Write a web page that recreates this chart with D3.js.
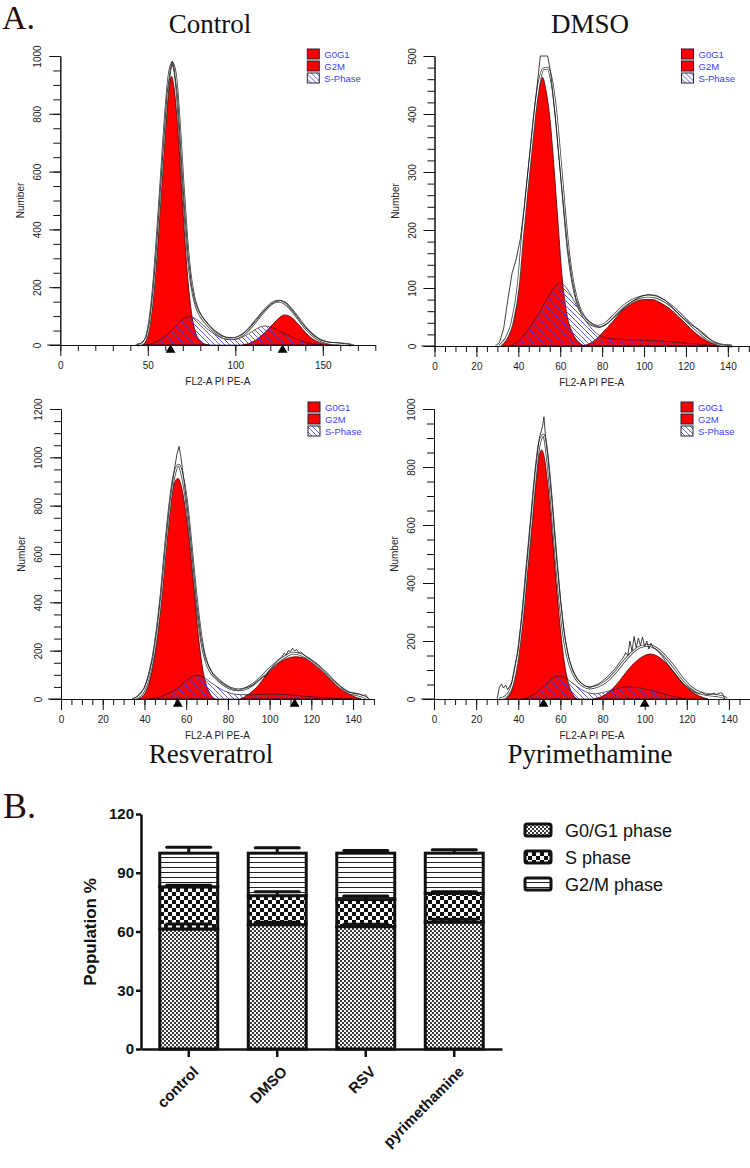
<!DOCTYPE html>
<html><head><meta charset="utf-8">
<script src="https://cdn.jsdelivr.net/npm/d3@7"></script>
<style>
body{margin:0;background:#fff;}
svg{display:block;}
</style></head><body>
<svg id="c" width="750" height="1168"></svg>
<script>
// ---------- Panel A data: [FL2-A value, Number] ----------
const controlG0G1 = [[46,0],[48,5],[50,40],[52,110],[54,230],[56,390],[58,560],[60,740],[62,880],[63.5,930],[65,890],[67,760],[69,570],[71,380],[73,220],[75,110],[77,50],[79,20],[82,5],[85,0]];
const controlG2M = [[104,0],[108,6],[112,18],[116,38],[120,62],[124,88],[128,104],[132,96],[136,72],[140,44],[144,22],[148,9],[152,3],[156,0]];
const controlS = [[48,0],[54,8],[58,22],[62,42],[66,65],[70,88],[74,98],[78,88],[82,66],[86,46],[90,31],[95,20],[100,20],[105,30],[110,48],[114,62],[117,66],[120,62],[124,52],[128,40],[132,28],[136,18],[140,10],[145,4],[150,0]];
const controlFit = [[44,0],[47,5],[50,45],[52,125],[54,255],[56,425],[58,605],[60,785],[62,925],[64,975],[66,925],[68,770],[70,570],[72,390],[74,255],[76,175],[78,130],[80,103],[83,78],[86,58],[90,38],[94,25],[98,22],[102,28],[106,44],[110,70],[114,100],[118,128],[122,148],[125,152],[128,146],[131,130],[134,108],[137,84],[140,60],[144,36],[148,18],[152,9],[156,5],[160,4],[163,2],[166,0]];
const controlRaw = [[43,0],[46,4],[49,25],[51,80],[53,190],[55,340],[57,520],[59,700],[61,870],[63,960],[64,982],[65,960],[67,860],[69,660],[71,470],[73,310],[75,205],[77,150],[79,118],[82,90],[85,68],[88,48],[92,32],[96,24],[100,25],[104,36],[108,58],[112,86],[116,115],[120,140],[123,150],[126,154],[129,145],[132,124],[135,100],[138,76],[141,55],[145,32],[149,16],[153,10],[157,8],[161,6],[165,2],[168,0]];
const controlMarkers = [63, 127];
const controlXTicks = [0, 50, 100, 150];
const controlYTicks = [0, 200, 400, 600, 800, 1000];

const dmsoG0G1 = [[32,0],[35,15],[38,45],[40,95],[42,185],[44,260],[46,325],[48,395],[50,445],[51.6,463],[53,445],[55,395],[57,310],[59,210],[61,115],[63,58],[66,22],[69,6],[72,0]];
const dmsoS = [[36,0],[40,8],[44,25],[48,45],[52,70],[56,95],[60,109],[63,100],[66,82],[69,62],[72,44],[75,30],[78,20],[82,14],[90,11],[100,10],[110,8],[120,5],[130,2],[136,0]];
const dmsoG2M = [[70,0],[75,6],[80,22],[85,42],[90,62],[95,75],[100,80],[104,80],[108,74],[112,65],[116,52],[120,38],[124,24],[128,13],[132,5],[136,0]];
const dmsoFit = [[31,0],[34,12],[37,40],[40,105],[42,190],[44,265],[46,335],[48,405],[50,455],[52,478],[54,479],[56,455],[58,400],[60,320],[62,235],[64,160],[66,110],[68,78],[71,52],[74,40],[78,34],[82,40],[86,54],[90,68],[94,78],[98,84],[102,86],[106,84],[110,77],[114,66],[118,52],[122,38],[126,25],[130,13],[134,5],[138,1],[142,0]];
const dmsoRaw = [[29,0],[31,6],[33,30],[35,80],[37,125],[39,150],[41,185],[43,245],[45,315],[47,385],[49,450],[50.5,500],[54,500],[55.5,470],[57.5,400],[59.5,320],[61.5,245],[63.5,170],[65.5,118],[67.5,82],[70,58],[73,44],[76,36],[79,32],[82,37],[86,50],[90,64],[94,76],[98,85],[102,89],[106,87],[110,79],[114,65],[118,50],[122,38],[126,29],[130,17],[133,6],[137,2],[142,0]];
const dmsoMarkers = [];
const dmsoXTicks = [0, 20, 40, 60, 80, 100, 120, 140];
const dmsoYTicks = [0, 100, 200, 300, 400, 500];

const rsvG0G1 = [[37,0],[40,20],[42,60],[44,130],[46,240],[48,400],[50,590],[52,760],[54,880],[56,913],[58,870],[60,760],[62,610],[64,430],[66,250],[68,120],[70,50],[72,15],[74,0]];
const rsvS = [[42,0],[48,10],[52,25],[56,45],[60,75],[64,96],[66,97],[70,80],[74,55],[78,35],[82,22],[86,18],[92,18],[100,20],[108,18],[116,12],[124,7],[132,3],[140,0]];
const rsvG2M = [[86,0],[90,20],[94,50],[98,95],[102,130],[106,158],[110,172],[113,175],[116,170],[120,155],[124,130],[128,100],[132,65],[136,35],[140,12],[144,0]];
const rsvFit = [[35,0],[38,15],[40,40],[42,90],[44,165],[46,280],[48,430],[50,620],[52,790],[54,915],[56.5,968],[58,930],[60,830],[62,670],[64,490],[66,330],[68,210],[70,145],[72,110],[75,82],[78,60],[81,45],[85,38],[88,42],[92,60],[96,90],[100,125],[104,155],[108,178],[111,190],[114,187],[118,170],[122,145],[126,115],[130,80],[134,48],[138,26],[142,18],[145,10],[147,0]];
const rsvRaw = [[34,0],[36,6],[38,25],[39,35],[40,45],[42,95],[44,170],[46,290],[48,440],[50,630],[52,800],[54,930],[55.5,1010],[56.6,1045],[57.5,1000],[59,900],[61,760],[63,580],[65,400],[67,260],[69,175],[71,130],[73,100],[76,75],[79,55],[82,42],[85,36],[88,44],[90,50],[92,58],[93,66],[95,80],[97,95],[98,92],[100,120],[102,140],[104,160],[106,175],[107,190],[108,182],[109,200],[110,196],[111,210],[112,198],[113,205],[114,190],[115,195],[117,178],[120,160],[123,140],[126,115],[130,80],[134,50],[137,30],[139,26],[141,22],[143,20],[145,14],[146,18],[147,5],[148,0]];
const rsvMarkers = [56, 112];
const rsvXTicks = [0, 20, 40, 60, 80, 100, 120, 140];
const rsvYTicks = [0, 200, 400, 600, 800, 1000, 1200];

const pyrG0G1 = [[34,0],[37,30],[40,150],[42,260],[44,420],[46,560],[48,710],[50,840],[51,859],[52,845],[54,740],[56,580],[58,400],[60,240],[62,120],[64,50],[66,15],[68,0]];
const pyrS = [[42,0],[46,10],[50,30],[54,55],[58,78],[60,79],[64,65],[68,42],[72,25],[76,18],[80,22],[84,30],[88,38],[92,42],[96,40],[100,35],[104,28],[108,20],[112,12],[116,5],[120,0]];
const pyrG2M = [[76,0],[80,10],[84,30],[88,62],[92,100],[96,130],[100,150],[102.5,155],[106,148],[110,125],[114,92],[118,55],[122,28],[126,10],[130,0]];
const pyrFit = [[31,0],[34,8],[37,45],[40,160],[42,285],[44,445],[46,600],[48,760],[50,880],[52,910],[54,820],[56,660],[58,480],[60,320],[62,200],[64,130],[66,90],[68,65],[70,50],[74,38],[78,45],[82,62],[86,92],[90,128],[94,160],[98,180],[102,185],[106,172],[110,145],[114,110],[118,70],[122,40],[126,22],[130,15],[134,12],[138,5],[139,0]];
const pyrRaw = [[30,0],[31,40],[32,52],[33,38],[34,48],[35,32],[36,45],[37,60],[38,100],[40,170],[42,300],[44,460],[46,620],[48,780],[50,900],[51.5,940],[52.2,973],[53,900],[54,840],[56,680],[58,500],[60,340],[62,215],[64,140],[66,95],[68,68],[70,54],[72,44],[74,40],[76,46],[78,52],[80,62],[82,75],[84,90],[86,105],[88,125],[90,145],[91,160],[92,150],[93,200],[94,165],[95,215],[96,178],[97,210],[98,185],[99,214],[100,180],[101,200],[102,172],[103,192],[104,178],[106,168],[108,150],[110,130],[113,100],[116,72],[119,48],[122,32],[124,22],[126,18],[127,24],[129,14],[131,16],[133,20],[134,15],[136,22],[137,18],[138,0]];
const pyrMarkers = [52, 100];
const pyrXTicks = [0, 20, 40, 60, 80, 100, 120, 140];
const pyrYTicks = [0, 200, 400, 600, 800, 1000];

const histLegend = ["G0G1", "G2M", "S-Phase"];

// ---------- Panel B data ----------
const groups = ["control", "DMSO", "RSV", "pyrimethamine"];
const g0g1Pct = [61.3, 63.5, 62.5, 64.8];
const g0g1Err = [2.5, 1.2, 1.2, 1.5];
const sPct = [21.5, 14.8, 13.8, 14.7];
const sErr = [0.8, 2.0, 1.8, 0.8];
const g2mPct = [17.2, 21.7, 23.7, 20.5];
const g2mErr = [3.0, 2.8, 1.3, 1.8];
const barYTicks = [0, 30, 60, 90, 120];
const phaseLabels = ["G0/G1 phase", "S phase", "G2/M phase"];

// ---------- drawing ----------
const svg = d3.select("#c");
const defs = svg.append("defs");
const SANS = "'Liberation Sans', Arial, sans-serif";
const SERIF = "'Liberation Serif', 'Times New Roman', serif";

// S-phase hatch
const hp = defs.append("pattern").attr("id", "sHatch").attr("patternUnits", "userSpaceOnUse")
  .attr("width", 5).attr("height", 5);
hp.append("path").attr("d", "M-1,-1 L6,6 M-1,4 L1,6 M4,-1 L6,1")
  .attr("stroke", "#3838d8").attr("stroke-width", 0.8).attr("fill", "none");

// bar patterns
const pG0 = defs.append("pattern").attr("id", "pG0").attr("patternUnits", "userSpaceOnUse").attr("width", 4).attr("height", 4);
pG0.append("rect").attr("width", 4).attr("height", 4).attr("fill", "#fff");
pG0.append("rect").attr("width", 2).attr("height", 2).attr("fill", "#3a3a3a");
pG0.append("rect").attr("x", 2).attr("y", 2).attr("width", 2).attr("height", 2).attr("fill", "#3a3a3a");
const pS = defs.append("pattern").attr("id", "pS").attr("patternUnits", "userSpaceOnUse").attr("width", 8).attr("height", 8);
pS.append("rect").attr("width", 8).attr("height", 8).attr("fill", "#fff");
pS.append("rect").attr("width", 4).attr("height", 4).attr("fill", "#111");
pS.append("rect").attr("x", 4).attr("y", 4).attr("width", 4).attr("height", 4).attr("fill", "#111");
const pG2 = defs.append("pattern").attr("id", "pG2").attr("patternUnits", "userSpaceOnUse").attr("width", 8).attr("height", 5);
pG2.append("rect").attr("width", 8).attr("height", 5).attr("fill", "#fff");
pG2.append("rect").attr("y", 2).attr("width", 8).attr("height", 1).attr("fill", "#222");

const panels = [
  {g0: controlG0G1, g2: controlG2M, s: controlS, fit: controlFit, raw: controlRaw, markers: controlMarkers,
   xTicks: controlXTicks, yTicks: controlYTicks, title: "Control",
   xMax: 180, yMax: 1000, x0: 60.3, x1: 375.3, y0: 345, y1: 56, minorX: 10, minorY: 50, tx: 210, ty: 33},
  {g0: dmsoG0G1, g2: dmsoG2M, s: dmsoS, fit: dmsoFit, raw: dmsoRaw, markers: dmsoMarkers,
   xTicks: dmsoXTicks, yTicks: dmsoYTicks, title: "DMSO",
   xMax: 150, yMax: 500, x0: 434.5, x1: 748.8, y0: 346, y1: 56, minorX: 5, minorY: 20, tx: 590, ty: 33},
  {g0: rsvG0G1, g2: rsvG2M, s: rsvS, fit: rsvFit, raw: rsvRaw, markers: rsvMarkers,
   xTicks: rsvXTicks, yTicks: rsvYTicks, title: "Resveratrol",
   xMax: 150, yMax: 1200, x0: 61, x1: 373.9, y0: 699, y1: 409, minorX: 5, minorY: 50, tx: 211, ty: 763},
  {g0: pyrG0G1, g2: pyrG2M, s: pyrS, fit: pyrFit, raw: pyrRaw, markers: pyrMarkers,
   xTicks: pyrXTicks, yTicks: pyrYTicks, title: "Pyrimethamine",
   xMax: 150, yMax: 1000, x0: 434, x1: 750, y0: 699, y1: 409, minorX: 5, minorY: 50, tx: 590, ty: 763}
];

panels.forEach(p => {
  const g = svg.append("g");
  const x = d3.scaleLinear().domain([0, p.xMax]).range([p.x0, p.x1]);
  const y = d3.scaleLinear().domain([0, p.yMax]).range([p.y0, p.y1]);
  const area = d3.area().x(d => x(d[0])).y0(y(0)).y1(d => y(d[1])).curve(d3.curveMonotoneX);
  const line = d3.line().x(d => x(d[0])).y(d => y(d[1])).curve(d3.curveMonotoneX);
  const rawLine = d3.line().x(d => x(d[0])).y(d => y(d[1]));

  g.append("path").datum(p.g0).attr("d", area).attr("fill", "#f00").attr("stroke", "#400").attr("stroke-width", 0.8);
  g.append("path").datum(p.g2).attr("d", area).attr("fill", "#f00").attr("stroke", "#400").attr("stroke-width", 0.8);
  g.append("path").datum(p.s).attr("d", area).attr("fill", "url(#sHatch)").attr("stroke", "#301020").attr("stroke-width", 0.7);
  g.append("path").datum(p.fit).attr("d", line).attr("fill", "none").attr("stroke", "#444").attr("stroke-width", 2.8);
  g.append("path").datum(p.fit).attr("d", line).attr("fill", "none").attr("stroke", "#fff").attr("stroke-width", 1.2);
  g.append("path").datum(p.raw).attr("d", rawLine).attr("fill", "none").attr("stroke", "#111").attr("stroke-width", 0.8);

  // axes
  const minorYs = d3.range(0, p.yMax + 0.001, p.minorY);
  const minorXs = d3.range(0, p.xMax + 0.001, p.minorX);
  g.append("g").attr("transform", `translate(${p.x0},0)`)
    .call(d3.axisLeft(y).tickValues(minorYs).tickSize(7).tickSizeOuter(0).tickFormat(""));
  const yMajor = g.append("g").attr("transform", `translate(${p.x0},0)`)
    .call(d3.axisLeft(y).tickValues(p.yTicks).tickSize(11).tickSizeOuter(0).tickFormat(d3.format("d")));
  yMajor.selectAll(".tick text")
    .attr("x", 0).attr("dy", 0).attr("text-anchor", "middle")
    .attr("transform", "translate(-19,0) rotate(-90)")
    .style("font", `10px ${SANS}`).attr("fill", "#222");
  g.append("g").attr("transform", `translate(0,${p.y0})`)
    .call(d3.axisBottom(x).tickValues(minorXs).tickSize(6).tickSizeOuter(0).tickFormat(""));
  const xMajor = g.append("g").attr("transform", `translate(0,${p.y0})`)
    .call(d3.axisBottom(x).tickValues(p.xTicks).tickSize(11).tickSizeOuter(0).tickPadding(6).tickFormat(d3.format("d")));
  xMajor.selectAll(".tick text").style("font", `10px ${SANS}`).attr("fill", "#222");
  g.selectAll(".domain").attr("stroke", "#111");
  g.selectAll(".tick line").attr("stroke", "#111");
  g.append("line").attr("x1", p.x0 - 13).attr("x2", p.x0).attr("y1", p.y0).attr("y2", p.y0).attr("stroke", "#111");

  // cycle markers
  g.selectAll(".mk").data(p.markers).join("path")
    .attr("transform", d => `translate(${x(d)},${p.y0 + 5})`)
    .attr("d", d3.symbol(d3.symbolTriangle).size(42)).attr("fill", "#000");

  // labels
  g.append("text").attr("x", (p.x0 + p.x1) / 2).attr("y", p.y0 + 40).attr("text-anchor", "middle")
    .style("font", `10px ${SANS}`).attr("fill", "#222").text("FL2-A PI PE-A");
  g.append("text").attr("transform", `translate(${p.x0 - 36},${(p.y0 + p.y1) / 2}) rotate(-90)`)
    .attr("text-anchor", "middle").style("font", `10px ${SANS}`).attr("fill", "#222").text("Number");
  g.append("text").attr("x", p.tx).attr("y", p.ty).attr("text-anchor", "middle")
    .style("font", `27px ${SERIF}`).attr("fill", "#111").text(p.title);

  // legend
  const lg = g.append("g").attr("transform", `translate(${p.x0 + 247},${p.y1 - 7})`);
  histLegend.forEach((name, i) => {
    lg.append("rect").attr("x", 0).attr("y", i * 12).attr("width", 12).attr("height", 10)
      .attr("fill", i < 2 ? "#f00" : "url(#sHatch)").attr("stroke", "#223").attr("stroke-width", 1);
    lg.append("text").attr("x", 17).attr("y", i * 12 + 9).style("font", `9.5px ${SANS}`)
      .attr("fill", "#3d3dff").text(name);
  });
});

svg.append("text").attr("x", 2).attr("y", 29).style("font", `34px ${SERIF}`).attr("fill", "#2a0c0c").text("A.");
svg.append("text").attr("x", 3).attr("y", 818).style("font", `36px ${SERIF}`).attr("fill", "#2a0c0c").text("B.");

// ---------- Panel B ----------
const rows = groups.map((c, i) => ({cat: c, g0: g0g1Pct[i], s: sPct[i], g2: g2mPct[i],
  e_g0: g0g1Err[i], e_s: sErr[i], e_g2: g2mErr[i]}));
const keys = ["g0", "s", "g2"];
const fills = {g0: "url(#pG0)", s: "url(#pS)", g2: "url(#pG2)"};
const stack = d3.stack().keys(keys)(rows);

const yB = d3.scaleLinear().domain([0, 120]).range([1049, 814]);
const xB = d3.scaleBand().domain(groups).range([141, 502]).paddingInner(0.345).paddingOuter(0.212);

const bg = svg.append("g");
stack.forEach(layer => {
  const k = layer.key;
  bg.selectAll(".b" + k).data(layer).join("rect")
    .attr("x", d => xB(d.data.cat)).attr("width", xB.bandwidth())
    .attr("y", d => yB(d[1])).attr("height", d => yB(d[0]) - yB(d[1]))
    .attr("fill", fills[k]).attr("stroke", "#111").attr("stroke-width", 3);
});
stack.forEach(layer => {
  const k = layer.key;
  layer.forEach(d => {
    const cx = xB(d.data.cat) + xB.bandwidth() / 2;
    const top = yB(d[1]), hi = yB(d[1] + d.data["e_" + k]);
    bg.append("line").attr("x1", cx).attr("x2", cx).attr("y1", top).attr("y2", hi)
      .attr("stroke", "#111").attr("stroke-width", 3);
    bg.append("line").attr("x1", cx - 22).attr("x2", cx + 22).attr("y1", hi).attr("y2", hi)
      .attr("stroke", "#111").attr("stroke-width", 3).attr("stroke-linecap", "round");
  });
});

const ya = svg.append("g").attr("transform", "translate(141,0)")
  .call(d3.axisLeft(yB).tickValues(barYTicks).tickSize(5).tickSizeOuter(0).tickPadding(2));
ya.selectAll(".tick text").style("font", `bold 15px ${SANS}`).attr("fill", "#111");
const xa = svg.append("g").attr("transform", "translate(0,1049)")
  .call(d3.axisBottom(xB).tickSize(8).tickSizeOuter(0));
xa.selectAll(".tick text").attr("y", 0).attr("dy", "0.35em").attr("text-anchor", "end")
  .attr("transform", "translate(7,20) rotate(-45)")
  .style("font", `bold 15px ${SANS}`).attr("fill", "#111");
[ya, xa].forEach(a => {
  a.selectAll(".domain").attr("stroke", "#111").attr("stroke-width", 2.5);
  a.selectAll(".tick line").attr("stroke", "#111").attr("stroke-width", 2.5);
});

svg.append("text").attr("transform", "translate(96,932) rotate(-90)").attr("text-anchor", "middle")
  .style("font", `bold 17px ${SANS}`).attr("fill", "#111").text("Population %");

const leg = svg.append("g");
keys.forEach((k, i) => {
  leg.append("rect").attr("x", 525).attr("y", 824 + i * 27).attr("width", 26).attr("height", 12)
    .attr("rx", 2).attr("fill", fills[k]).attr("stroke", "#111").attr("stroke-width", 3);
  leg.append("text").attr("x", 565).attr("y", 836.5 + i * 27).style("font", `18px ${SANS}`)
    .attr("fill", "#111").text(phaseLabels[i]);
});
</script></body></html>
